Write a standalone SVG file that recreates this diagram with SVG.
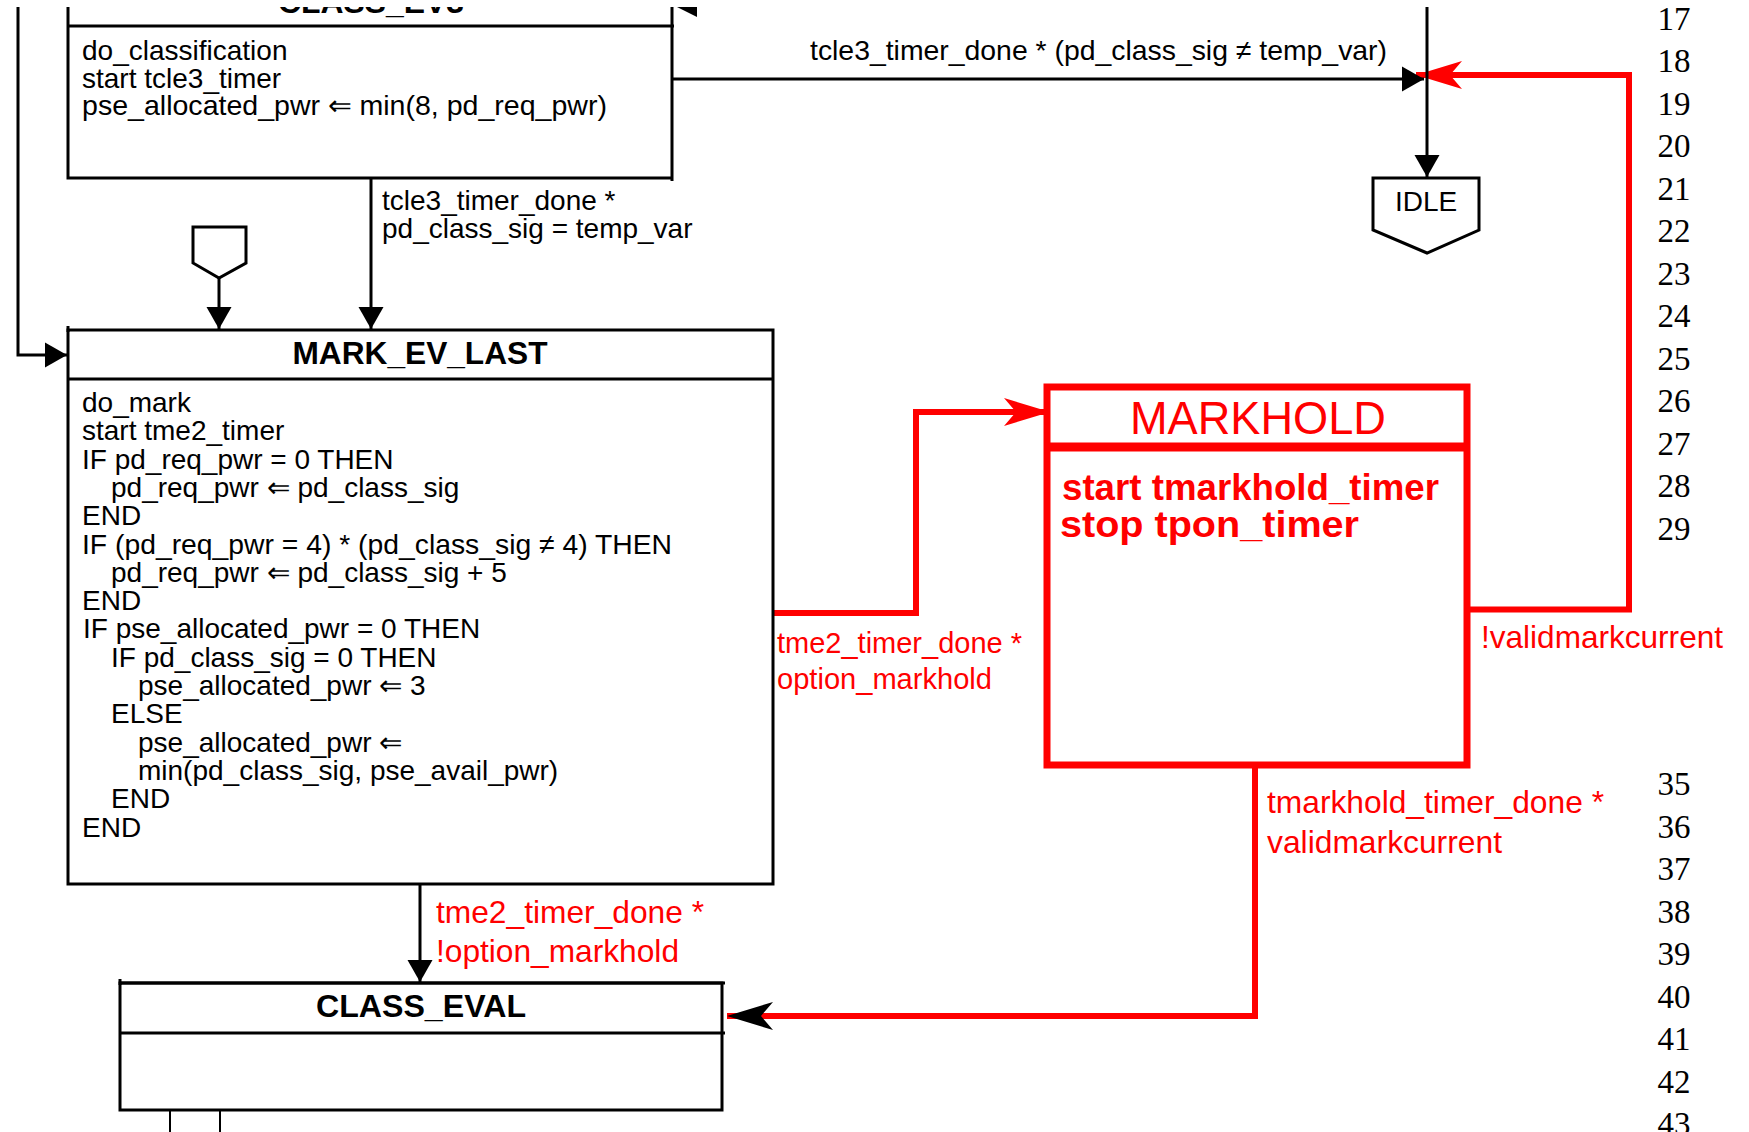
<svg xmlns="http://www.w3.org/2000/svg" width="1749" height="1132" viewBox="0 0 1749 1132">
<style>
  .ln { fill: none; stroke: #000; stroke-width: 3; }
  .thin { fill: none; stroke: #000; stroke-width: 2; }
  .rl { fill: none; stroke: #ff0000; stroke-width: 6; }
  .box { fill: #fff; stroke: #000; stroke-width: 3; }
  .rbox { fill: #fff; stroke: #ff0000; stroke-width: 7; }
  .t { font-family: "Liberation Sans", Arial, sans-serif; font-size: 28px; fill: #000; }
  .title { font-family: "Liberation Sans", Arial, sans-serif; font-size: 32px; font-weight: bold; fill: #000; text-anchor: middle; }
  .rt { font-family: "Liberation Sans", Arial, sans-serif; font-size: 31.5px; fill: #ff0000; }
  .rts { font-family: "Liberation Sans", Arial, sans-serif; font-size: 29px; fill: #ff0000; }
  .rbody { font-family: "Liberation Sans", Arial, sans-serif; font-size: 36px; font-weight: bold; fill: #ff0000; }
  .num { font-family: "Liberation Serif", "Times New Roman", serif; font-size: 33px; fill: #000; text-anchor: middle; }
</style>
<defs>
  <clipPath id="topclip"><rect x="0" y="7" width="1749" height="1125"/></clipPath>
  <marker id="tri" markerUnits="userSpaceOnUse" viewBox="-23 -13 24 26" refX="0" refY="0" markerWidth="24" markerHeight="26" orient="auto">
    <path d="M0,0 L-22,-12.5 L-22,12.5 Z" fill="#000"/>
  </marker>
  <marker id="barbRed" markerUnits="userSpaceOnUse" viewBox="-48 -16 50 32" refX="0" refY="0" markerWidth="50" markerHeight="32" orient="auto">
    <path d="M0,0 L-46,-14 L-34,0 L-46,14 Z" fill="#ff0000"/>
  </marker>
  <marker id="barbBlack" markerUnits="userSpaceOnUse" viewBox="-48 -16 50 32" refX="0" refY="0" markerWidth="50" markerHeight="32" orient="auto">
    <path d="M0,0 L-46,-14 L-34,0 L-46,14 Z" fill="#000"/>
  </marker>
</defs>
<rect x="0" y="0" width="1749" height="1132" fill="#fff"/>

<!-- connectors -->
<g id="connectors">
  <!-- red transitions (drawn first) -->
  <polyline class="rl" points="770,613 916,613 916,412 1050,412" marker-end="url(#barbRed)"/>
  <polyline class="rl" points="1467,609.5 1629,609.5 1629,75 1416,75" marker-end="url(#barbRed)"/>
  <polyline class="rl" points="1255,765 1255,1016 727,1016" marker-end="url(#barbBlack)"/>
  <!-- black transitions -->
  <polyline class="ln" points="18,7 18,355 67,355" marker-end="url(#tri)"/>
  <line class="ln" x1="371" y1="178" x2="371" y2="329" marker-end="url(#tri)"/>
  <line class="ln" x1="219" y1="278" x2="219" y2="329" marker-end="url(#tri)"/>
  <line class="ln" x1="672" y1="79" x2="1424" y2="79" marker-end="url(#tri)"/>
  <line class="ln" x1="1427" y1="7" x2="1427" y2="177" marker-end="url(#tri)"/>
  <line class="ln" x1="420" y1="884" x2="420" y2="982" marker-end="url(#tri)"/>
  <line class="thin" x1="170" y1="1108" x2="170" y2="1132"/>
  <line class="thin" x1="220" y1="1108" x2="220" y2="1132"/>
  <polygon points="677,7 697,7 697,17" fill="#000"/>
  <!-- transition labels -->
  <text class="t" x="810" y="60" textLength="577" lengthAdjust="spacingAndGlyphs">tcle3_timer_done * (pd_class_sig ≠ temp_var)</text>
  <text class="t" x="382" y="210">tcle3_timer_done *</text>
  <text class="t" x="382" y="238">pd_class_sig = temp_var</text>
  <text class="rts" x="777" y="653" textLength="245" lengthAdjust="spacingAndGlyphs">tme2_timer_done *</text>
  <text class="rts" x="777" y="689" textLength="215" lengthAdjust="spacingAndGlyphs">option_markhold</text>
  <text class="rt" x="1481" y="648" textLength="242" lengthAdjust="spacingAndGlyphs">!validmarkcurrent</text>
  <text class="rt" x="1267" y="813" textLength="337" lengthAdjust="spacingAndGlyphs">tmarkhold_timer_done *</text>
  <text class="rt" x="1267" y="853" textLength="235" lengthAdjust="spacingAndGlyphs">validmarkcurrent</text>
  <text class="rt" x="436" y="923" textLength="268" lengthAdjust="spacingAndGlyphs">tme2_timer_done *</text>
  <text class="rt" x="436" y="962" textLength="243" lengthAdjust="spacingAndGlyphs">!option_markhold</text>
</g>

<!-- CLASS_EV3 (partially visible at top) -->
<g id="class_ev3">
  <path class="ln" d="M68,7 L68,178 L672,178 M672,7 L672,181 M68,26 L674,26"/>
  <text class="title" x="371" y="13" textLength="186" lengthAdjust="spacingAndGlyphs" clip-path="url(#topclip)">CLASS_EV3</text>
  <text class="t" x="82" y="60">do_classification</text>
  <text class="t" x="82" y="87.5">start tcle3_timer</text>
  <text class="t" x="82" y="115" textLength="525" lengthAdjust="spacingAndGlyphs">pse_allocated_pwr ⇐ min(8, pd_req_pwr)</text>
</g>

<!-- entry connector symbol -->
<g id="entry">
  <polygon class="ln" points="193,227 246,227 246,263 219,278 193,263"/>
</g>

<!-- IDLE -->
<g id="idle">
  <polygon class="box" points="1373,178 1479,178 1479,230 1427,253 1373,230"/>
  <text class="t" x="1426" y="211" text-anchor="middle" font-size="29">IDLE</text>
</g>

<!-- MARK_EV_LAST -->
<g id="mark_ev_last">
  <rect class="box" x="68" y="330" width="705" height="554"/>
  <line class="ln" x1="68" y1="326" x2="68" y2="332"/>
  <line class="ln" x1="68" y1="379" x2="773" y2="379"/>
  <text class="title" x="420" y="364" textLength="255" lengthAdjust="spacingAndGlyphs">MARK_EV_LAST</text>
  <text class="t" x="82" y="412">do_mark</text>
  <text class="t" x="82" y="440.3">start tme2_timer</text>
  <text class="t" x="82" y="468.6">IF pd_req_pwr = 0 THEN</text>
  <text class="t" x="111" y="496.9">pd_req_pwr ⇐ pd_class_sig</text>
  <text class="t" x="82" y="525.2">END</text>
  <text class="t" x="82" y="553.5" textLength="590" lengthAdjust="spacingAndGlyphs">IF (pd_req_pwr = 4) * (pd_class_sig ≠ 4) THEN</text>
  <text class="t" x="111" y="581.8">pd_req_pwr ⇐ pd_class_sig + 5</text>
  <text class="t" x="82" y="610.1">END</text>
  <text class="t" x="83" y="638.4">IF pse_allocated_pwr = 0 THEN</text>
  <text class="t" x="111" y="666.7">IF pd_class_sig = 0 THEN</text>
  <text class="t" x="138" y="695">pse_allocated_pwr ⇐ 3</text>
  <text class="t" x="111" y="723.3">ELSE</text>
  <text class="t" x="138" y="751.6">pse_allocated_pwr ⇐</text>
  <text class="t" x="138" y="779.9">min(pd_class_sig, pse_avail_pwr)</text>
  <text class="t" x="111" y="808.2">END</text>
  <text class="t" x="82" y="836.5">END</text>
</g>

<!-- MARKHOLD -->
<g id="markhold">
  <rect class="rbox" x="1047" y="387" width="420" height="378"/>
  <line x1="1047" y1="447" x2="1467" y2="447" stroke="#ff0000" stroke-width="9"/>
  <text x="1258" y="434" text-anchor="middle" font-family="Liberation Sans, Arial, sans-serif" font-size="46" fill="#ff0000" textLength="256" lengthAdjust="spacingAndGlyphs">MARKHOLD</text>
  <text class="rbody" x="1062" y="500" textLength="377" lengthAdjust="spacingAndGlyphs">start tmarkhold_timer</text>
  <text class="rbody" x="1060" y="537" textLength="299" lengthAdjust="spacingAndGlyphs">stop tpon_timer</text>
</g>

<!-- CLASS_EVAL -->
<g id="class_eval">
  <rect class="box" x="120" y="983" width="602" height="127"/>
  <line class="ln" x1="120" y1="979" x2="120" y2="985"/>
  <line class="ln" x1="120" y1="983" x2="725" y2="983"/>
  <line class="ln" x1="120" y1="1033" x2="725" y2="1033"/>
  <text class="title" x="421" y="1017" textLength="210" lengthAdjust="spacingAndGlyphs">CLASS_EVAL</text>
</g>

<!-- line numbers -->
<g id="line_numbers">
  <text class="num" x="1674" y="29.5">17</text>
  <text class="num" x="1674" y="72">18</text>
  <text class="num" x="1674" y="114.5">19</text>
  <text class="num" x="1674" y="157">20</text>
  <text class="num" x="1674" y="199.5">21</text>
  <text class="num" x="1674" y="242">22</text>
  <text class="num" x="1674" y="284.5">23</text>
  <text class="num" x="1674" y="327">24</text>
  <text class="num" x="1674" y="369.5">25</text>
  <text class="num" x="1674" y="412">26</text>
  <text class="num" x="1674" y="454.5">27</text>
  <text class="num" x="1674" y="497">28</text>
  <text class="num" x="1674" y="539.5">29</text>
  <text class="num" x="1674" y="795">35</text>
  <text class="num" x="1674" y="837.5">36</text>
  <text class="num" x="1674" y="880">37</text>
  <text class="num" x="1674" y="922.5">38</text>
  <text class="num" x="1674" y="965">39</text>
  <text class="num" x="1674" y="1007.5">40</text>
  <text class="num" x="1674" y="1050">41</text>
  <text class="num" x="1674" y="1092.5">42</text>
  <text class="num" x="1674" y="1135">43</text>
</g>
</svg>
